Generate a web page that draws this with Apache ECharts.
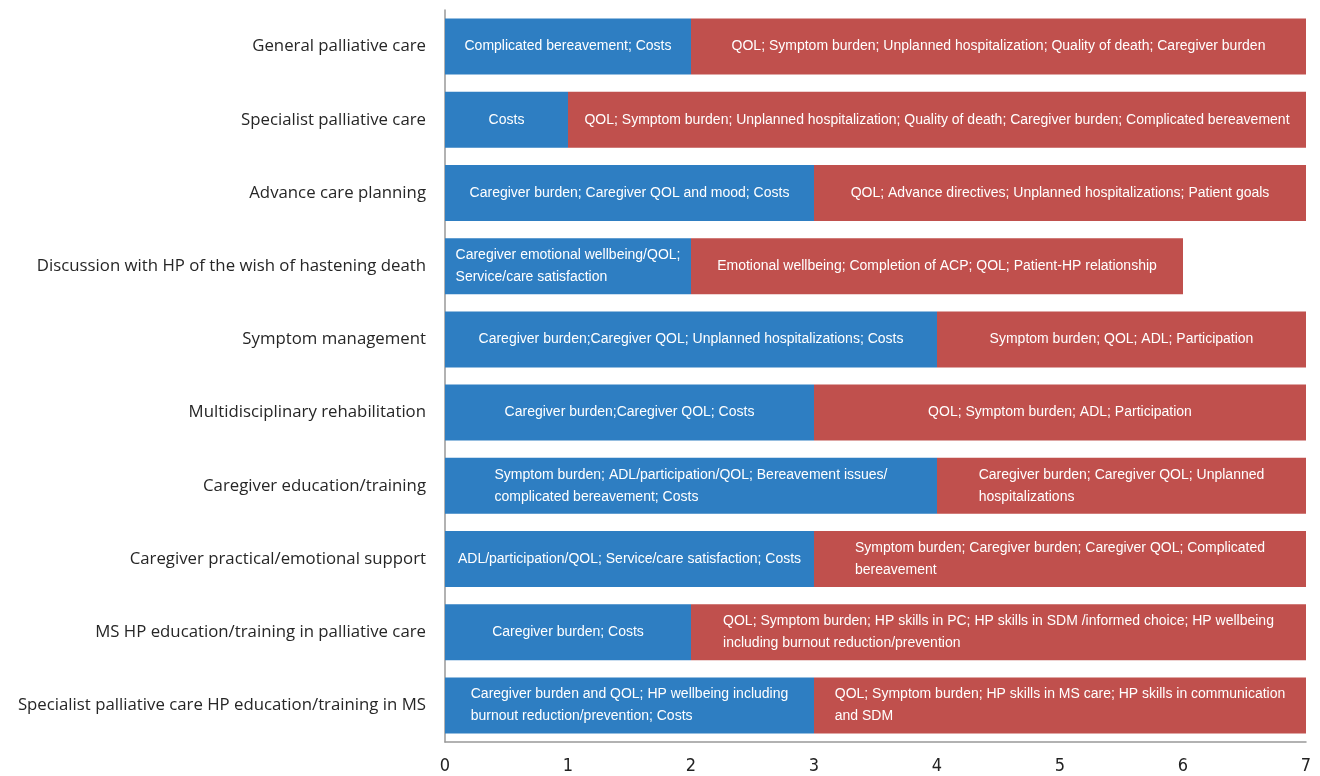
<!DOCTYPE html>
<html>
<head>
<meta charset="utf-8">
<script src="https://cdn.jsdelivr.net/npm/echarts@6/dist/echarts.min.js"></script>
<style>
  html, body { margin: 0; padding: 0; background: #fff; }
  #chart { width: 1320px; height: 776px; }
</style>
</head>
<body>
<div id="chart"></div>
<script>
// categories listed bottom to top (category axis grows upward)
var categories = [
    'Specialist palliative care HP education/training in MS',
    'MS HP education/training in palliative care',
    'Caregiver practical/emotional support',
    'Caregiver education/training',
    'Multidisciplinary rehabilitation',
    'Symptom management',
    'Discussion with HP of the wish of hastening death',
    'Advance care planning',
    'Specialist palliative care',
    'General palliative care'
];
var blueValues = [3, 2, 3, 4, 3, 4, 2, 3, 1, 2];
var redValues = [4, 5, 4, 3, 4, 3, 4, 4, 6, 5];
var blueLabels = [
    'Caregiver burden and QOL; HP wellbeing including\nburnout reduction/prevention; Costs',
    'Caregiver burden; Costs',
    'ADL/participation/QOL; Service/care satisfaction; Costs',
    'Symptom burden; ADL/participation/QOL; Bereavement issues/\ncomplicated bereavement; Costs',
    'Caregiver burden;Caregiver QOL; Costs',
    'Caregiver burden;Caregiver QOL; Unplanned hospitalizations; Costs',
    'Caregiver emotional wellbeing/QOL;\nService/care satisfaction',
    'Caregiver burden; Caregiver QOL and mood; Costs',
    'Costs',
    'Complicated bereavement; Costs'
];
var redLabels = [
    'QOL; Symptom burden; HP skills in MS care; HP skills in communication\nand SDM',
    'QOL; Symptom burden; HP skills in PC; HP skills in SDM /informed choice; HP wellbeing\nincluding burnout reduction/prevention',
    'Symptom burden; Caregiver burden; Caregiver QOL; Complicated\nbereavement',
    'Caregiver burden; Caregiver QOL; Unplanned\nhospitalizations',
    'QOL; Symptom burden; ADL; Participation',
    'Symptom burden; QOL; ADL; Participation',
    'Emotional wellbeing; Completion of ACP; QOL; Patient-HP relationship',
    'QOL; Advance directives; Unplanned hospitalizations; Patient goals',
    'QOL; Symptom burden; Unplanned hospitalization; Quality of death; Caregiver burden; Complicated bereavement',
    'QOL; Symptom burden; Unplanned hospitalization; Quality of death; Caregiver burden'
];
var xTicks = [0, 1, 2, 3, 4, 5, 6, 7];

function segLabel(texts) {
    return {
        show: true,
        position: 'inside',
        color: '#fff',
        fontFamily: 'Liberation Sans',
        fontSize: 14,
        lineHeight: 22,
        formatter: function (p) {
            // left aligned lines inside a centred block
            return texts[p.dataIndex].split('\n').map(function (s) {
                return '{l|' + s + '}';
            }).join('\n');
        },
        rich: {
            l: { align: 'left', color: '#fff', fontFamily: 'Liberation Sans', fontSize: 14, lineHeight: 22 }
        }
    };
}

var chart = echarts.init(document.getElementById('chart'));
chart.setOption({
    animation: false,
    backgroundColor: '#fff',
    grid: { left: 445, right: 14, top: 10, bottom: 34 },
    xAxis: {
        type: 'value',
        min: 0,
        max: 7,
        interval: 1,
        axisLine: { show: true, lineStyle: { color: '#999', width: 1.5 } },
        axisTick: { show: false },
        splitLine: { show: false },
        axisLabel: {
            color: '#222',
            fontFamily: '"DejaVu Sans Condensed", "Open Sans", sans-serif',
            fontSize: 18,
            margin: 15,
            formatter: function (v) { return xTicks.indexOf(v) >= 0 ? String(v) : ''; }
        }
    },
    yAxis: {
        type: 'category',
        data: categories,
        axisLine: { show: true, lineStyle: { color: '#999', width: 1.5 } },
        axisTick: { show: false },
        axisLabel: {
            color: '#262626',
            fontFamily: '"Open Sans", sans-serif',
            fontSize: 16.8,
            margin: 19
        }
    },
    series: [
        {
            name: 'blue',
            type: 'bar',
            stack: 'total',
            barWidth: 56,
            itemStyle: { color: '#2E7EC2' },
            label: segLabel(blueLabels),
            data: blueValues
        },
        {
            name: 'red',
            type: 'bar',
            stack: 'total',
            barWidth: 56,
            itemStyle: { color: '#C0504D' },
            label: segLabel(redLabels),
            data: redValues
        }
    ]
});
</script>
</body>
</html>
